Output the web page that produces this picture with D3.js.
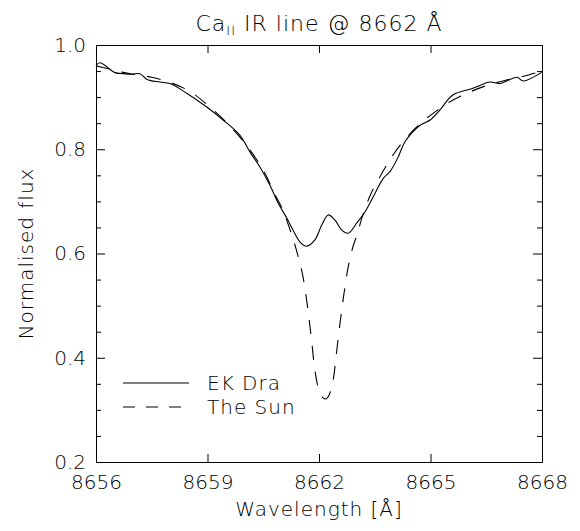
<!DOCTYPE html>
<html>
<head>
<meta charset="utf-8">
<script src="https://cdn.jsdelivr.net/npm/d3@7"></script>
<style>
  body { margin: 0; background: #fff; }
  text { font-family: "DejaVu Sans ExtraLight", "DejaVu Sans", sans-serif; font-weight: 200; fill: #000; }
</style>
</head>
<body>
<script>
// EK Dra profile (solid)
var ekWave = [8656.00, 8656.11, 8656.51, 8656.73, 8656.97, 8657.18, 8657.37, 8657.72, 8657.99, 8658.45,
  8658.98, 8659.42, 8659.87, 8660.14, 8660.41, 8660.68, 8660.90, 8661.14, 8661.30, 8661.49,
  8661.67, 8661.89, 8662.07, 8662.25, 8662.43, 8662.61, 8662.79, 8663.01, 8663.24, 8663.46,
  8663.73, 8663.91, 8664.13, 8664.31, 8664.72, 8664.99, 8665.25, 8665.60, 8666.14, 8666.60,
  8666.87, 8667.33, 8667.49, 8668.00];
var ekFlux = [0.961, 0.966, 0.947, 0.945, 0.944, 0.945, 0.934, 0.929, 0.926, 0.907,
  0.881, 0.856, 0.827, 0.795, 0.766, 0.731, 0.697, 0.667, 0.645, 0.622,
  0.614, 0.626, 0.654, 0.674, 0.664, 0.645, 0.639, 0.658, 0.680, 0.709,
  0.744, 0.757, 0.785, 0.814, 0.846, 0.856, 0.875, 0.904, 0.917, 0.929,
  0.926, 0.938, 0.931, 0.948];

// solar profile (dashed)
var sunWave = [8656.00, 8656.30, 8656.70, 8657.00, 8657.50, 8658.00, 8658.50, 8659.00, 8659.50, 8660.00,
  8660.50, 8660.80, 8661.00, 8661.14, 8661.31, 8661.43, 8661.57, 8661.70, 8661.80, 8661.89,
  8662.00, 8662.11, 8662.19, 8662.27, 8662.38, 8662.46, 8662.56, 8662.67, 8662.78, 8662.91,
  8663.02, 8663.18, 8663.40, 8663.70, 8664.00, 8664.30, 8664.70, 8665.00, 8665.50, 8666.00,
  8666.50, 8667.00, 8667.50, 8668.00];
var sunFlux = [0.960, 0.955, 0.948, 0.944, 0.938, 0.928, 0.912, 0.885, 0.852, 0.812,
  0.760, 0.715, 0.688, 0.662, 0.626, 0.597, 0.555, 0.493, 0.434, 0.376,
  0.338, 0.323, 0.321, 0.328, 0.357, 0.403, 0.463, 0.522, 0.572, 0.612,
  0.635, 0.674, 0.715, 0.755, 0.790, 0.818, 0.848, 0.865, 0.890, 0.908,
  0.922, 0.932, 0.940, 0.950];

var xTicks = [8656, 8659, 8662, 8665, 8668];
var yTicks = [0.2, 0.4, 0.6, 0.8, 1.0];
var yMinor = [0.25, 0.3, 0.35, 0.45, 0.5, 0.55, 0.65, 0.7, 0.75, 0.85, 0.9, 0.95];
var legendNames = ["EK Dra", "The Sun"];

var width = 580, height = 531;
var margin = {left: 96, right: 38, top: 45, bottom: 69};
var w = width - margin.left - margin.right;
var h = height - margin.top - margin.bottom;

var x = d3.scaleLinear().domain([8656, 8668]).range([0, w]);
var y = d3.scaleLinear().domain([0.2, 1.0]).range([h, 0]);

var svg = d3.select("body").append("svg").attr("width", width).attr("height", height);
var g = svg.append("g").attr("transform", "translate(" + margin.left + "," + margin.top + ")");

function styleAxis(sel) {
  sel.attr("font-family", null).attr("font-size", null);
  sel.selectAll("path, line").attr("stroke", "#000").attr("stroke-width", 1);
  sel.selectAll("text").attr("font-size", 20).attr("fill", "#000");
}

// axes on all four sides, ticks pointing inward
g.append("g").attr("transform", "translate(0," + h + ")")
  .call(d3.axisBottom(x).tickValues(xTicks).tickSizeInner(-8).tickSizeOuter(0).tickPadding(13).tickFormat(d3.format("d")))
  .call(styleAxis);
g.append("g")
  .call(d3.axisTop(x).tickValues(xTicks).tickSizeInner(-8).tickSizeOuter(0).tickFormat(""))
  .call(styleAxis);
g.append("g")
  .call(d3.axisLeft(y).tickValues(yTicks).tickSizeInner(-9).tickSizeOuter(0).tickPadding(10).tickFormat(d3.format(".1f")))
  .call(styleAxis);
g.append("g")
  .call(d3.axisLeft(y).tickValues(yMinor).tickSizeInner(-5).tickSizeOuter(0).tickFormat(""))
  .call(styleAxis);
g.append("g").attr("transform", "translate(" + w + ",0)")
  .call(d3.axisRight(y).tickValues(yTicks).tickSizeInner(-9).tickSizeOuter(0).tickFormat(""))
  .call(styleAxis);
g.append("g").attr("transform", "translate(" + w + ",0)")
  .call(d3.axisRight(y).tickValues(yMinor).tickSizeInner(-5).tickSizeOuter(0).tickFormat(""))
  .call(styleAxis);

var line = d3.line()
  .x(function(d) { return x(d[0]); })
  .y(function(d) { return y(d[1]); })
  .curve(d3.curveCatmullRom);

g.append("path")
  .datum(sunWave.map(function(d, i) { return [d, sunFlux[i]]; }))
  .attr("fill", "none").attr("stroke", "#000").attr("stroke-width", 1.1)
  .attr("stroke-dasharray", "14,12")
  .attr("d", line);

g.append("path")
  .datum(ekWave.map(function(d, i) { return [d, ekFlux[i]]; }))
  .attr("fill", "none").attr("stroke", "#000").attr("stroke-width", 1.1)
  .attr("d", line);

// legend
var leg = g.selectAll(".leg").data(legendNames).enter().append("g")
  .attr("transform", function(d, i) { return "translate(0," + (338 + i * 24) + ")"; });
leg.append("line")
  .attr("x1", 27).attr("x2", 93).attr("y1", 0).attr("y2", 0)
  .attr("stroke", "#000").attr("stroke-width", 1.1)
  .attr("stroke-dasharray", function(d, i) { return i ? "12,11" : null; });
leg.append("text")
  .attr("x", 111).attr("y", 7)
  .attr("font-size", 20)
  .attr("letter-spacing", 1)
  .text(function(d) { return d; });

// title
var title = svg.append("text")
  .attr("x", margin.left + w / 2).attr("y", 31)
  .attr("text-anchor", "middle")
  .attr("font-size", 22)
  .attr("letter-spacing", 1);
title.append("tspan").text("Ca");
title.append("tspan").attr("font-size", 13).attr("dy", 4).text("II");
title.append("tspan").attr("dy", -4).text(" IR line @ 8662 Å");

// axis titles
svg.append("text")
  .attr("x", margin.left + w / 2).attr("y", 516)
  .attr("text-anchor", "middle")
  .attr("font-size", 20)
  .attr("letter-spacing", 1)
  .text("Wavelength [Å]");
svg.append("text")
  .attr("transform", "translate(33," + (margin.top + h / 2) + ") rotate(-90)")
  .attr("text-anchor", "middle")
  .attr("font-size", 20)
  .attr("letter-spacing", 1)
  .text("Normalised flux");
</script>
</body>
</html>
